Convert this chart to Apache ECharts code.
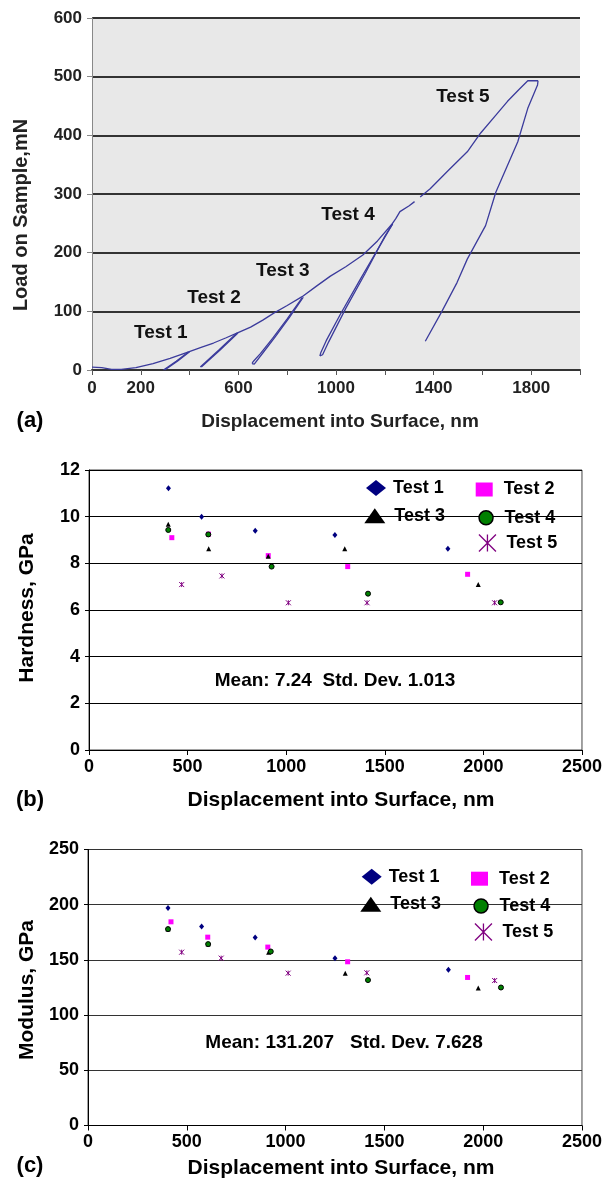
<!DOCTYPE html>
<html><head><meta charset="utf-8">
<script src="https://cdn.jsdelivr.net/npm/echarts@6/dist/echarts.min.js"></script>
<style>html,body{margin:0;padding:0;background:#fff}#c{width:605px;height:1188px}</style>
</head><body><div id="c"></div>
<script>
// ---------- Panel (a): load-displacement curves ----------
const loadD  = [0, 40, 80, 120, 180, 250, 320, 396, 450, 498, 550, 594, 650, 700, 745, 800, 861, 920, 977, 1040, 1110, 1170, 1228, 1245, 1262, 1300, 1322];
const loadL  = [5, 4, 1, 1, 4, 11, 20, 31, 39, 46, 55, 63, 73, 85, 97, 110, 125, 143, 160, 176, 196, 220, 248, 258, 270, 280, 287];
const load2D = [1345, 1386, 1460, 1538, 1593, 1650, 1703, 1750, 1786, 1828];
const load2L = [295, 309, 340, 372, 404, 432, 458, 478, 493, 493];
const unl1D = [396, 345, 293], unl1L = [31, 15, 0];
const rel1D = [298, 350, 400], rel1L = [0, 15, 31];
const unl2D = [594, 520, 444], unl2L = [63, 34, 5];
const rel2D = [448, 525, 598], rel2L = [5, 34, 63];
const unl3D = [861, 800, 740, 690, 660, 656], unl3L = [123, 87, 54, 28, 14, 11];
const rel3D = [656, 665, 700, 750, 810, 866], rel3L = [11, 10, 29, 56, 90, 124];
const unl4D = [1232, 1180, 1100, 1018, 960, 938, 934], unl4L = [249, 212, 155, 95, 50, 30, 24];
const rel4D = [934, 945, 970, 1040, 1120, 1200, 1232], rel4L = [24, 26, 48, 105, 165, 228, 249];
const unl5D = [1828, 1826, 1786, 1745, 1655, 1613, 1538, 1496, 1434, 1366];
const unl5L = [493, 486, 446, 389, 303, 246, 189, 149, 100, 49];
const testNames = ['Test 1', 'Test 2', 'Test 3', 'Test 4', 'Test 5'];
const testLabelD = [282, 500, 782, 1049, 1520];
const testLabelL = [63, 123, 169, 265, 465];
const xTickLabelsA = [0, 200, 600, 1000, 1400, 1800];

// ---------- Panel (b): hardness ----------
const hardD1 = [403, 571, 843, 1247, 1820], hardH1 = [11.22, 10.0, 9.40, 9.21, 8.63];
const hardD2 = [420, 606, 909, 1312, 1920], hardH2 = [9.10, 9.25, 8.33, 7.86, 7.53];
const hardD3 = [402, 607, 909, 1297, 1974], hardH3 = [9.67, 8.63, 8.30, 8.63, 7.09];
const hardD4 = [402, 605, 926, 1415, 2088], hardH4 = [9.43, 9.24, 7.86, 6.70, 6.33];
const hardD5 = [470, 674, 1011, 1410, 2057], hardH5 = [7.09, 7.46, 6.31, 6.31, 6.31];

// ---------- Panel (c): modulus ----------
const modD1 = [405, 575, 846, 1250, 1824], modM1 = [196.9, 180.3, 170.3, 151.6, 141.0];
const modD2 = [420, 606, 910, 1314, 1921], modM2 = [184.5, 170.6, 161.6, 148.3, 134.1];
const modD3 = [405, 608, 914, 1302, 1975], modM3 = [177.9, 164.3, 157.0, 138.0, 124.5];
const modD4 = [405, 608, 925, 1417, 2090], modM4 = [177.9, 164.3, 157.6, 131.7, 125.0];
const modD5 = [474, 674, 1013, 1411, 2058], modM5 = [157.0, 151.6, 138.0, 138.3, 131.3];

const FONT = '"Liberation Sans", Arial, sans-serif';
const zip = (a, b) => a.map((v, i) => [v, b[i]]);
const curveColor = '#3b3b9c';
const plain = v => String(v);

const chart = echarts.init(document.getElementById('c'), null, {renderer: 'canvas'});

function curve(d, l) {
  return {type: 'line', xAxisIndex: 0, yAxisIndex: 0, data: zip(d, l), showSymbol: false, symbol: 'none',
    lineStyle: {color: curveColor, width: 1.3, opacity: 1}, silent: true, z: 3};
}

const ASTER = 'path://M0,0L10,10M10,0L0,10M5,0L5,10';
const markerStyles = [
  {symbol: 'diamond', symbolSize: [5, 6], itemStyle: {color: '#000080', opacity: 1}},
  {symbol: 'rect', symbolSize: 5, itemStyle: {color: '#ff00ff', opacity: 1}},
  {symbol: 'triangle', symbolSize: 5, itemStyle: {color: '#000000', opacity: 1}},
  {symbol: 'circle', symbolSize: 5, itemStyle: {color: '#008000', borderColor: '#000', borderWidth: 1, opacity: 1}},
  {symbol: ASTER, symbolSize: 5, itemStyle: {color: 'rgba(0,0,0,0)', borderColor: '#800080', borderWidth: 1, opacity: 1}}
];
function scatter(idx, d, v, axis) {
  const m = markerStyles[idx];
  return {type: 'scatter', name: testNames[idx], xAxisIndex: axis, yAxisIndex: axis, data: zip(d, v),
    symbol: m.symbol, symbolSize: m.symbolSize, itemStyle: m.itemStyle, z: 4};
}

const legendIcon = [
  {icon: 'diamond', w: 20, h: 16, style: {color: '#000080', opacity: 1}},
  {icon: 'rect', w: 17, h: 14, style: {color: '#ff00ff', opacity: 1}},
  {icon: 'triangle', w: 21, h: 15, style: {color: '#000000', opacity: 1}},
  {icon: 'circle', w: 17, h: 14, style: {color: '#008000', borderColor: '#000', borderWidth: 1.5, opacity: 1}},
  {icon: ASTER, w: 22, h: 17, style: {color: 'rgba(0,0,0,0)', borderColor: '#800080', borderWidth: 1.3, opacity: 1}}
];
function legendsFor(pos) {
  return pos.map((p, i) => ({
    data: [{name: testNames[i], icon: legendIcon[i].icon, itemStyle: legendIcon[i].style}],
    left: p[0], top: p[1] - legendIcon[i].h / 2, padding: 0,
    itemWidth: legendIcon[i].w, itemHeight: legendIcon[i].h,
    selectedMode: false,
    textStyle: {fontFamily: FONT, fontSize: 18, fontWeight: 'bold', color: '#000', padding: [0, 0, 0, p[2]]}
  }));
}
const legendB = [[366, 487, 2], [475.7, 487.5, 6], [364.3, 514.2, 4], [478.3, 515.8, 5], [478.3, 542.3, 3]];
const legendC = [[361.7, 875.8, 2], [471, 876.7, 6], [360.3, 902.8, 4], [473.3, 904, 5], [474.3, 931.3, 3]];

const bold = (sz, col) => ({fontFamily: FONT, fontSize: sz, fontWeight: 'bold', color: col || '#000'});

function gtext(text, x, y, size, rot, col) {
  return {type: 'text', x: x, y: y, rotation: rot || 0, z: 10,
    style: {text: text, fill: col || '#000', fontFamily: FONT, fontSize: size, fontWeight: 'bold', align: 'center', verticalAlign: 'middle'}};
}

const option = {
  animation: false,
  backgroundColor: '#fff',
  grid: [
    {left: 92, top: 18, width: 488, height: 352, show: true, backgroundColor: '#e8e8e8', borderWidth: 0},
    {left: 89, top: 470, width: 495, height: 280, show: true, backgroundColor: '#fff', borderColor: '#444', borderWidth: 1},
    {left: 88, top: 849.5, width: 495, height: 276, show: true, backgroundColor: '#fff', borderColor: '#444', borderWidth: 1}
  ],
  xAxis: [
    {type: 'value', gridIndex: 0, min: 0, max: 2000, interval: 200,
      axisLine: {show: true, lineStyle: {color: '#333', width: 2}},
      axisTick: {show: true, length: 5, lineStyle: {color: '#555'}},
      axisLabel: Object.assign(bold(17, '#222'), {margin: 10, formatter: v => xTickLabelsA.indexOf(v) >= 0 ? String(v) : ''}),
      splitLine: {show: false}},
    {type: 'value', gridIndex: 1, min: 0, max: 2500, interval: 500,
      axisLine: {show: true, lineStyle: {color: '#000', width: 1}},
      axisTick: {show: true, length: 5, lineStyle: {color: '#000'}},
      axisLabel: Object.assign(bold(18), {margin: 8, formatter: plain}),
      splitLine: {show: false}},
    {type: 'value', gridIndex: 2, min: 0, max: 2500, interval: 500,
      axisLine: {show: true, lineStyle: {color: '#000', width: 1}},
      axisTick: {show: true, length: 5, lineStyle: {color: '#000'}},
      axisLabel: Object.assign(bold(18), {margin: 8, formatter: plain}),
      splitLine: {show: false}}
  ],
  yAxis: [
    {type: 'value', gridIndex: 0, min: 0, max: 600, interval: 100,
      axisLine: {show: true, lineStyle: {color: '#888', width: 1}},
      axisTick: {show: true, length: 5, lineStyle: {color: '#888'}},
      axisLabel: Object.assign(bold(17, '#222'), {margin: 10, formatter: plain}),
      splitLine: {show: true, lineStyle: {color: '#333', width: 2}}},
    {type: 'value', gridIndex: 1, min: 0, max: 12, interval: 2,
      axisLine: {show: true, lineStyle: {color: '#000', width: 1}},
      axisTick: {show: true, length: 4, lineStyle: {color: '#000'}},
      axisLabel: Object.assign(bold(18), {margin: 9, formatter: plain}),
      splitLine: {show: true, lineStyle: {color: '#000', width: 1}}},
    {type: 'value', gridIndex: 2, min: 0, max: 250, interval: 50,
      axisLine: {show: true, lineStyle: {color: '#000', width: 1}},
      axisTick: {show: true, length: 4, lineStyle: {color: '#000'}},
      axisLabel: Object.assign(bold(18), {margin: 9, formatter: plain}),
      splitLine: {show: true, lineStyle: {color: '#333', width: 1}}}
  ],
  legend: legendsFor(legendB).concat(legendsFor(legendC)),
  series: [
    curve(loadD, loadL), curve(load2D, load2L),
    curve(unl1D, unl1L), curve(rel1D, rel1L),
    curve(unl2D, unl2L), curve(rel2D, rel2L),
    curve(unl3D, unl3L), curve(rel3D, rel3L),
    curve(unl4D, unl4L), curve(rel4D, rel4L),
    curve(unl5D, unl5L),
    {type: 'scatter', xAxisIndex: 0, yAxisIndex: 0, symbolSize: 0, silent: true, z: 5,
      itemStyle: {opacity: 1},
      data: testNames.map((n, i) => ({name: n, value: [testLabelD[i], testLabelL[i]]})),
      label: Object.assign(bold(19, '#111'), {show: true, position: 'inside', opacity: 1, formatter: p => p.name})},
    scatter(0, hardD1, hardH1, 1), scatter(1, hardD2, hardH2, 1), scatter(2, hardD3, hardH3, 1),
    scatter(3, hardD4, hardH4, 1), scatter(4, hardD5, hardH5, 1),
    scatter(0, modD1, modM1, 2), scatter(1, modD2, modM2, 2), scatter(2, modD3, modM3, 2),
    scatter(3, modD4, modM4, 2), scatter(4, modD5, modM5, 2)
  ],
  graphic: [
    gtext('(a)', 30, 421, 22),
    gtext('Displacement into Surface, nm', 340, 422, 19, 0, '#222'),
    gtext('Load on Sample,mN', 21, 215, 20, Math.PI / 2, '#222'),
    gtext('(b)', 30, 800, 22),
    gtext('Displacement into Surface, nm', 341, 800, 21),
    gtext('Hardness, GPa', 27, 608, 21, Math.PI / 2),
    gtext('Mean: 7.24  Std. Dev. 1.013', 335, 681, 19),
    gtext('(c)', 30, 1166, 22),
    gtext('Displacement into Surface, nm', 341, 1168, 21),
    gtext('Modulus, GPa', 27, 990, 21, Math.PI / 2),
    gtext('Mean: 131.207   Std. Dev. 7.628', 344, 1043, 19)
  ]
};
chart.setOption(option);
</script></body></html>
